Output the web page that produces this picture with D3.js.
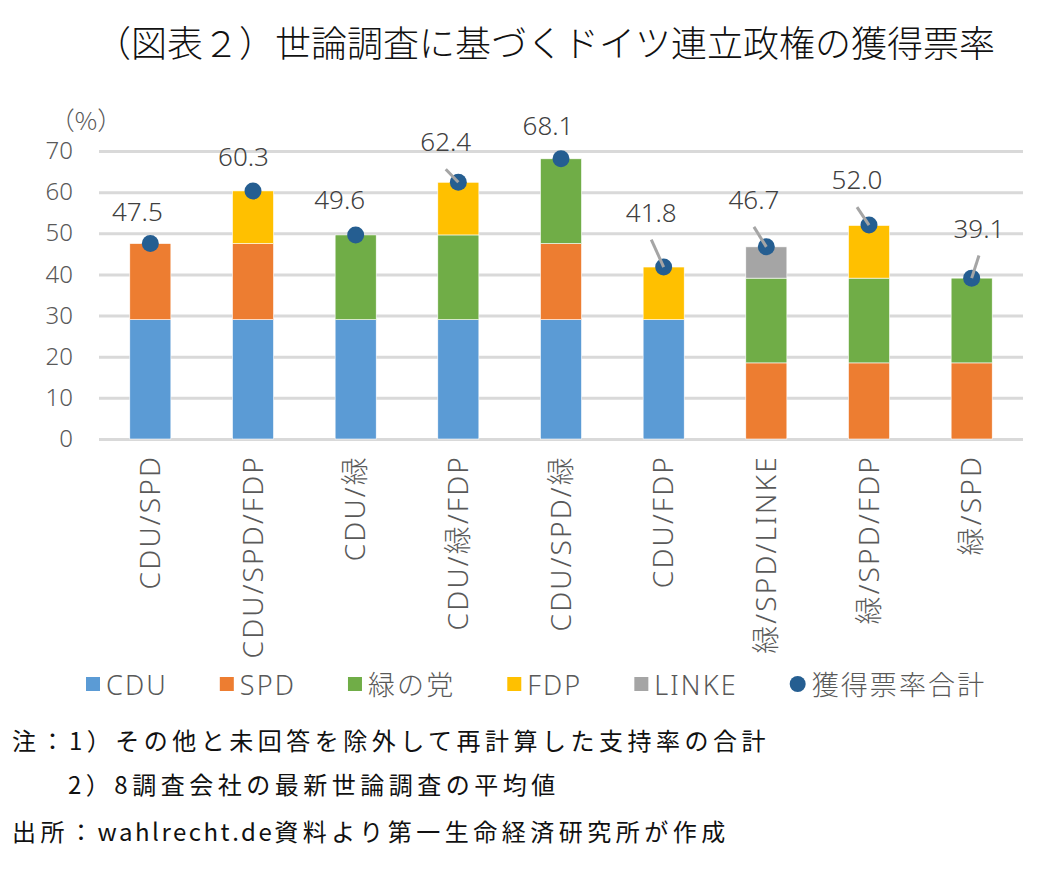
<!DOCTYPE html>
<html>
<head>
<meta charset="utf-8">
<script src="https://cdn.jsdelivr.net/npm/d3@7"></script>
<style>
  body { margin: 0; background: #fff; }
  svg { display: block; font-family: "Noto Sans", "Noto Sans CJK JP", sans-serif; font-weight: 300; }
</style>
</head>
<body>
<div id="chart"></div>
<script>
// data
var coalitions = ['CDU/SPD', 'CDU/SPD/FDP', 'CDU/緑', 'CDU/緑/FDP', 'CDU/SPD/緑', 'CDU/FDP', '緑/SPD/LINKE', '緑/SPD/FDP', '緑/SPD'];
var parties = ['CDU', 'SPD', '緑の党', 'FDP', 'LINKE'];
var cdu   = [29.0, 29.0, 29.0, 29.0, 29.0, 29.0, 0, 0, 0];
var spd   = [18.5, 18.5, 0, 0, 18.5, 0, 18.5, 18.5, 18.5];
var green = [0, 0, 20.6, 20.6, 20.6, 0, 20.6, 20.6, 20.6];
var fdp   = [0, 12.8, 0, 12.8, 0, 12.8, 0, 12.8, 0];
var linke = [0, 0, 0, 0, 0, 0, 7.6, 0, 0];
var totals = [47.5, 60.3, 49.6, 62.4, 68.1, 41.8, 46.7, 52.0, 39.1];
var yTicks = [0, 10, 20, 30, 40, 50, 60, 70];
var totalName = '獲得票率合計';

// layout of the dragged data labels (offset from the point), and which have leader lines
var labelDx = [-13, -9.5, -16, -12.6, -13, -12.4, -12.4, -12, 7.3];
var labelDy = [-23, -25, -26, -31, -24, -45.5, -38, -36, -40.6];
var leader  = [false, false, false, true, false, true, true, true, true];

var colors = ['#5B9BD5', '#ED7D31', '#70AD47', '#FFC000', '#A5A5A5'];
var dotColor = '#255E91';

var width = 1046, height = 876;
var plot = {left: 99, right: 1023, top: 151, bottom: 439};

var svg = d3.select('#chart').append('svg')
    .attr('width', width)
    .attr('height', height);

svg.append('text')
    .attr('x', 545)
    .attr('y', 57)
    .attr('text-anchor', 'middle')
    .style('font-family', '"Noto Sans CJK JP", sans-serif')
    .style('font-size', '36px')
    .style('fill', '#111')
    .text('（図表２）世論調査に基づくドイツ連立政権の獲得票率');

var x = d3.scaleBand()
    .domain(coalitions)
    .range([plot.left, plot.right])
    .paddingInner(0.6)
    .paddingOuter(0.3);

var y = d3.scaleLinear()
    .domain([0, 70])
    .range([plot.bottom, plot.top]);

// y axis + gridlines
var yAxis = svg.append('g')
    .attr('transform', `translate(${plot.left},0)`)
    .call(d3.axisLeft(y).tickValues(yTicks).tickSize(-(plot.right - plot.left)).tickPadding(26));
yAxis.attr('font-family', null).attr('font-size', null);
yAxis.select('.domain').remove();
yAxis.selectAll('line').attr('stroke', '#D9D9D9').attr('stroke-width', 3);
yAxis.selectAll('text')
    .style('font-size', '24px')
    .style('fill', '#595959');

svg.append('text')
    .attr('x', 86)
    .attr('y', 130)
    .attr('text-anchor', 'middle')
    .style('font-family', '"Noto Sans CJK JP", sans-serif')
    .style('font-size', '25px')
    .style('fill', '#595959')
    .text('（%）');

// x axis labels
var xAxis = svg.append('g')
    .attr('transform', `translate(0,${plot.bottom})`)
    .call(d3.axisBottom(x).tickSize(0));
xAxis.attr('font-family', null).attr('font-size', null);
xAxis.select('.domain').remove();
xAxis.selectAll('text')
    .attr('transform', 'rotate(-90)')
    .attr('text-anchor', 'end')
    .attr('x', -16)
    .attr('y', 0)
    .attr('dy', '0.35em')
    .style('font-size', '28px')
    .style('letter-spacing', '2.2px')
    .style('fill', '#595959');

// stacked bars
var rows = coalitions.map((c, i) => ({
    name: c, 'CDU': cdu[i], 'SPD': spd[i], '緑の党': green[i], 'FDP': fdp[i], 'LINKE': linke[i]
}));
var series = d3.stack().keys(parties)(rows);

svg.append('g').selectAll('g')
    .data(series)
    .join('g')
    .attr('fill', (d, i) => colors[i])
    .selectAll('rect')
    .data(d => d.filter(v => v[1] - v[0] > 0))
    .join('rect')
    .attr('x', d => x(d.data.name))
    .attr('width', x.bandwidth())
    .attr('y', d => y(d[1]))
    .attr('height', d => y(d[0]) - y(d[1]))
    .attr('stroke', '#fff')
    .attr('stroke-width', 0.6);

// total points
var pts = coalitions.map((c, i) => ({
    cx: x(c) + x.bandwidth() / 2,
    cy: y(totals[i]),
    v: totals[i], i: i
}));

svg.append('g').selectAll('circle')
    .data(pts)
    .join('circle')
    .attr('cx', d => d.cx)
    .attr('cy', d => d.cy)
    .attr('r', 8.5)
    .attr('fill', dotColor);

svg.append('g').selectAll('line')
    .data(pts.filter(d => leader[d.i]))
    .join('line')
    .attr('x1', d => d.cx + labelDx[d.i])
    .attr('y1', d => d.cy + labelDy[d.i] + 18)
    .attr('x2', d => d.cx)
    .attr('y2', d => d.cy)
    .attr('stroke', '#A5A5A5')
    .attr('stroke-width', 3);

svg.append('g').selectAll('text')
    .data(pts)
    .join('text')
    .attr('x', d => d.cx + labelDx[d.i])
    .attr('y', d => d.cy + labelDy[d.i])
    .attr('text-anchor', 'middle')
    .style('font-size', '26px')
    .style('fill', '#404040')
    .text(d => d.v.toFixed(1));

// legend
var legend = svg.append('g').attr('transform', 'translate(86,695)');
var lx = 0;
parties.concat([totalName]).forEach((name, i) => {
    var item = legend.append('g').attr('transform', `translate(${lx},0)`);
    if (i < parties.length) {
        item.append('rect')
            .attr('x', 0).attr('y', -18)
            .attr('width', 14).attr('height', 14)
            .attr('fill', colors[i]);
    } else {
        item.append('circle')
            .attr('cx', 8).attr('cy', -11)
            .attr('r', 8)
            .attr('fill', dotColor);
    }
    var t = item.append('text')
        .attr('x', i < parties.length ? 20 : 22)
        .attr('y', 0)
        .style('font-size', '27px')
        .style('letter-spacing', '2.1px')
        .style('fill', '#595959')
        .text(name);
    lx += (i < parties.length ? 20 : 22) + t.node().getComputedTextLength() + 52;
});

// notes: CJK runs spaced wider than latin runs
var notes = [
    {x: 12, y: 750, parts: [['注：1）その他と未回答を除外して再計算した支持率の合計', 'cjk']]},
    {x: 68, y: 794, parts: [['2）8調査会社の最新世論調査の平均値', 'cjk']]},
    {x: 12, y: 841, parts: [['出所：', 'cjk'], ['wahlrecht.de', 'lat'], ['資料より第一生命経済研究所が作成', 'cjk']]}
];
svg.append('g').selectAll('text')
    .data(notes)
    .join('text')
    .attr('x', d => d.x)
    .attr('y', d => d.y)
    .style('font-family', '"Noto Sans CJK JP", sans-serif')
    .style('font-weight', 400)
    .style('font-size', '24px')
    .style('fill', '#111')
    .selectAll('tspan')
    .data(d => d.parts)
    .join('tspan')
    .style('letter-spacing', d => d[1] === 'cjk' ? '4.5px' : '2.5px')
    .text(d => d[0]);
</script>
</body>
</html>
